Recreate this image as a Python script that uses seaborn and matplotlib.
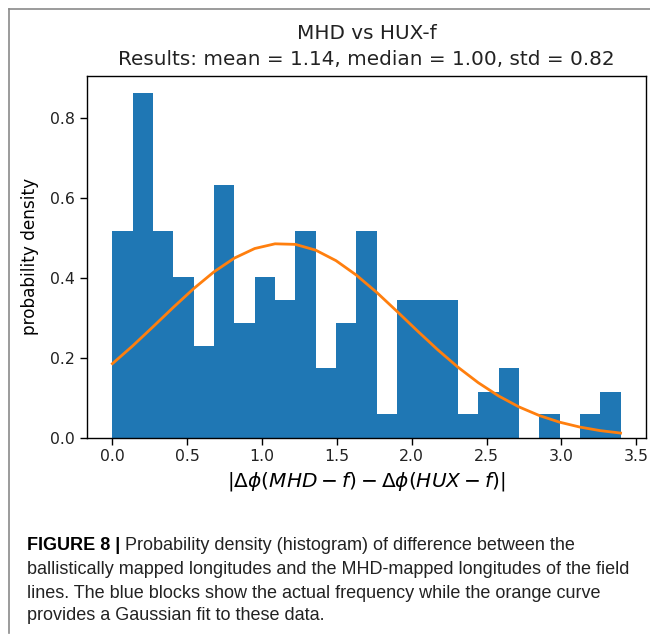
import matplotlib
matplotlib.use("Agg")
import matplotlib.pyplot as plt
from matplotlib.lines import Line2D
import numpy as np
import pandas as pd
import seaborn as sns

# ---- data ----
bin_edges = [0.0, 0.1358, 0.2716, 0.4074, 0.5432, 0.6790, 0.8148, 0.9506, 1.0864,
             1.2222, 1.3580, 1.4938, 1.6296, 1.7654, 1.9012, 2.0370, 2.1728, 2.3086,
             2.4444, 2.5802, 2.7160, 2.8518, 2.9876, 3.1234, 3.2592, 3.3950]
densities = [0.518, 0.863, 0.518, 0.403, 0.230, 0.633, 0.288, 0.403, 0.345, 0.518,
             0.173, 0.288, 0.518, 0.058, 0.345, 0.345, 0.345, 0.058, 0.115, 0.173,
             0.0, 0.058, 0.0, 0.058, 0.115]
fit_x = bin_edges
fit_pdf = [0.1851, 0.2298, 0.2777, 0.3264, 0.3733, 0.4154, 0.4497, 0.4737, 0.4855,
           0.4841, 0.4696, 0.4433, 0.4071, 0.3638, 0.3162, 0.2675, 0.2201, 0.1762,
           0.1373, 0.1041, 0.0767, 0.0551, 0.0384, 0.0261, 0.0172, 0.0111]
y_ticks = [0.0, 0.2, 0.4, 0.6, 0.8]
x_ticks = [0.0, 0.5, 1.0, 1.5, 2.0, 2.5, 3.0, 3.5]
title_text = "MHD vs HUX-f\nResults: mean = 1.14, median = 1.00, std = 0.82"
x_label = r"$|\Delta\phi(MHD-f)-\Delta\phi(HUX-f)|$"
y_label = "probability density"
caption_bold = "FIGURE 8 | "
caption_lines = [
    "Probability density (histogram) of difference between the",
    "ballistically mapped longitudes and the MHD-mapped longitudes of the field",
    "lines. The blue blocks show the actual frequency while the orange curve",
    "provides a Gaussian fit to these data.",
]

centers = [(bin_edges[i] + bin_edges[i + 1]) / 2 for i in range(len(densities))]
hist_df = pd.DataFrame({"x": centers, "w": densities})
fit_df = pd.DataFrame({"x": fit_x, "pdf": fit_pdf})

W, H = 650, 635
fig = plt.figure(figsize=(W / 100, H / 100), dpi=100)
fig.patch.set_facecolor("white")
ax = fig.add_axes([87 / W, (H - 437.5) / H, (646 - 87) / W, (437.5 - 76) / H])

sns.histplot(data=hist_df, x="x", weights="w", bins=bin_edges, stat="count",
             color="#1f77b4", alpha=1.0, linewidth=0, ax=ax)
sns.lineplot(data=fit_df, x="x", y="pdf", color="#ff7f0e", linewidth=2.0, ax=ax)

ax.margins(x=0.05, y=0.05)
ax.set_ylim(0, max(densities) * 1.05)
ax.set_xticks(x_ticks)
ax.set_yticks(y_ticks)
ax.set_xticklabels([f"{v:.1f}" for v in x_ticks])
ax.set_yticklabels([f"{v:.1f}" for v in y_ticks])
ax.tick_params(labelsize=11.3, length=5, width=1, color="black", labelcolor="#222222")
for s in ax.spines.values():
    s.set_color("black")
    s.set_linewidth(1.0)
ax.set_xlabel(x_label, fontsize=14.5, labelpad=4)
ax.set_ylabel(y_label, fontsize=12.2, labelpad=8)
ax.set_title(title_text, fontsize=14.4, pad=8, linespacing=1.45, color="#222222")

# caption
cap_font = "Liberation Sans"
cap_size = 12.95
x0 = 27 / W
ys = [545, 569, 593, 616]
tb = fig.text(x0, 1 - ys[0] / H, caption_bold, fontsize=cap_size, fontweight="bold",
              family=cap_font, va="center", ha="left", color="black")
fig.canvas.draw()
bb = tb.get_window_extent(renderer=fig.canvas.get_renderer())
fig.text(bb.x1 / W, 1 - ys[0] / H, caption_lines[0], fontsize=cap_size,
         family=cap_font, va="center", ha="left", color="#222222")
for line, yy in zip(caption_lines[1:], ys[1:]):
    fig.text(x0, 1 - yy / H, line, fontsize=cap_size, family=cap_font,
             va="center", ha="left", color="#222222")

# frame lines (top and left) of the figure panel
fig.add_artist(Line2D([8.5 / W, 1.0], [1 - 8.5 / H, 1 - 8.5 / H],
                      transform=fig.transFigure, color="#8a8a8a", linewidth=1.2))
fig.add_artist(Line2D([8.5 / W, 8.5 / W], [1 - 8.5 / H, 1 - 633 / H],
                      transform=fig.transFigure, color="#8a8a8a", linewidth=1.2))

fig.savefig("out.png", dpi=100, facecolor="white")
